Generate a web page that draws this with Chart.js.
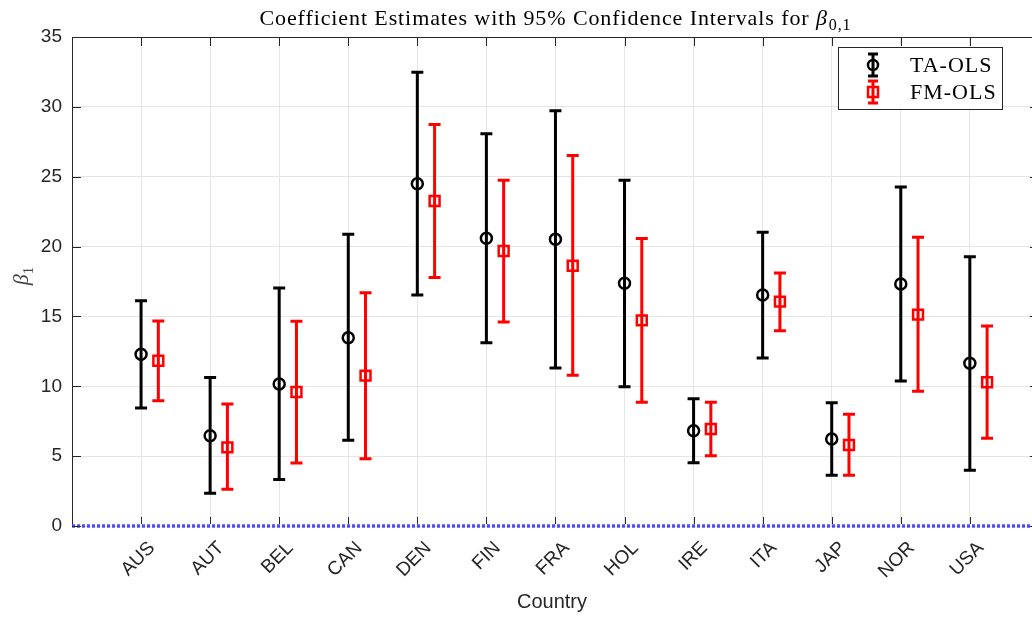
<!DOCTYPE html>
<html>
<head>
<meta charset="utf-8">
<script src="https://cdn.jsdelivr.net/npm/chart.js@4.4.1/dist/chart.umd.min.js"></script>
<style>
  html, body { margin: 0; padding: 0; background: #fff; overflow: hidden; }
  canvas { display: block; }
</style>
</head>
<body>
<canvas id="ciChart" width="1032" height="618" style="width:1032px;height:618px"></canvas>
<script>
// values
const countries = ['AUS', 'AUT', 'BEL', 'CAN', 'DEN', 'FIN', 'FRA', 'HOL', 'IRE', 'ITA', 'JAP', 'NOR', 'USA'];

const taEst  = [12.29, 6.46, 10.16, 13.48, 24.50, 20.59, 20.52, 17.37, 6.82, 16.54, 6.23, 17.32, 11.65];
const taLow  = [8.45, 2.34, 3.32, 6.13, 16.54, 13.12, 11.31, 9.97, 4.53, 12.03, 3.63, 10.38, 3.99];
const taHigh = [16.13, 10.62, 17.04, 20.88, 32.48, 28.08, 29.73, 24.74, 9.11, 21.02, 8.83, 24.27, 19.28];

const fmEst  = [11.83, 5.63, 9.59, 10.76, 23.26, 19.68, 18.63, 14.72, 6.94, 16.06, 5.80, 15.13, 10.29];
const fmLow  = [8.97, 2.63, 4.51, 4.82, 17.78, 14.60, 10.79, 8.85, 5.03, 13.98, 3.63, 9.64, 6.28];
const fmHigh = [14.67, 8.73, 14.65, 16.70, 28.73, 24.74, 26.51, 20.57, 8.85, 18.11, 8.00, 20.67, 14.32];

const yTicks = [0, 5, 10, 15, 20, 25, 30, 35];
const fmShift = 0.25; // FM-OLS drawn a bit right of the category
const xMax = 13.9;    // the figure is cut just before the right edge of the axes (x = 14)

const axisColor = '#262626';
const serif = '"Liberation Serif", "DejaVu Serif", serif';
const sans = '"Liberation Sans", Arial, sans-serif';

const taPoints = taEst.map((v, i) => ({ x: i + 1, y: v, lo: taLow[i], hi: taHigh[i] }));
const fmPoints = fmEst.map((v, i) => ({ x: i + 1 + fmShift, y: v, lo: fmLow[i], hi: fmHigh[i] }));

// draws the confidence-interval bars under the markers
const errorBars = {
    id: 'errorBars',
    beforeDatasetsDraw(chart) {
        const ctx = chart.ctx;
        const xs = chart.scales.x, ys = chart.scales.y;
        [0, 1].forEach(di => {
            const ds = chart.data.datasets[di];
            ctx.save();
            ctx.strokeStyle = ds.borderColor;
            ctx.lineWidth = 3;
            ds.data.forEach(p => {
                const x = xs.getPixelForValue(p.x);
                const yl = ys.getPixelForValue(p.lo);
                const yh = ys.getPixelForValue(p.hi);
                ctx.beginPath();
                ctx.moveTo(x, yl); ctx.lineTo(x, yh);
                ctx.moveTo(x - 6, yl); ctx.lineTo(x + 6, yl);
                ctx.moveTo(x - 6, yh); ctx.lineTo(x + 6, yh);
                ctx.stroke();
            });
            ctx.restore();
        });
    }
};

// title, axis subscripts, box, inner ticks and legend
const decorations = {
    id: 'decorations',
    afterDraw(chart) {
        const ctx = chart.ctx;
        const a = chart.chartArea;
        const xs = chart.scales.x, ys = chart.scales.y;
        const rightEdge = xs.getPixelForValue(14);

        ctx.save();
        // top border and inner ticks
        ctx.strokeStyle = axisColor;
        ctx.lineWidth = 1;
        ctx.beginPath();
        ctx.moveTo(a.left, a.top + 0.5); ctx.lineTo(a.right, a.top + 0.5);
        xs.ticks.forEach(t => {
            const x = Math.round(xs.getPixelForValue(t.value)) + 0.5;
            ctx.moveTo(x, a.bottom - 2); ctx.lineTo(x, a.bottom - 9);
            ctx.moveTo(x, a.top); ctx.lineTo(x, a.top + 9);
        });
        ys.ticks.forEach(t => {
            const y = Math.round(ys.getPixelForValue(t.value)) + 0.5;
            ctx.moveTo(a.left, y); ctx.lineTo(a.left + 9, y);
            ctx.moveTo(rightEdge, y); ctx.lineTo(rightEdge - 9, y);
        });
        ctx.stroke();

        // title with subscript
        const mainTxt = 'Coefficient Estimates with 95% Confidence Intervals for ';
        ctx.fillStyle = '#000';
        ctx.textBaseline = 'alphabetic';
        ctx.letterSpacing = '0.9px';
        ctx.font = '22px ' + serif;
        const w1 = ctx.measureText(mainTxt).width;
        ctx.font = 'italic 22px ' + serif;
        const w2 = ctx.measureText('β').width;
        ctx.font = '16px ' + serif;
        const w3 = ctx.measureText('0,1').width;
        let tx = (a.left + rightEdge) / 2 - (w1 + w2 + w3 + 1) / 2;
        const ty = 25;
        ctx.textAlign = 'left';
        ctx.font = '22px ' + serif;
        ctx.fillText(mainTxt, tx, ty);
        tx += w1;
        ctx.font = 'italic 22px ' + serif;
        ctx.fillText('β', tx, ty);
        tx += w2 + 1;
        ctx.font = '16px ' + serif;
        ctx.fillText('0,1', tx, ty + 5);

        // y axis title
        ctx.save();
        ctx.letterSpacing = '0px';
        ctx.translate(28, 276);
        ctx.rotate(-Math.PI / 2);
        ctx.fillStyle = '#404040';
        ctx.font = 'italic 22px ' + serif;
        const bw = ctx.measureText('β').width;
        ctx.font = '15px ' + serif;
        const sw = ctx.measureText('1').width;
        const bx = -(bw + sw) / 2;
        ctx.font = 'italic 22px ' + serif;
        ctx.fillText('β', bx, 0);
        ctx.font = '15px ' + serif;
        ctx.fillText('1', bx + bw, 5);
        ctx.restore();

        // legend
        const lx = 838.5, ly = 47.5, lw = 164, lh = 62;
        ctx.fillStyle = '#fff';
        ctx.fillRect(lx, ly, lw, lh);
        ctx.strokeStyle = axisColor;
        ctx.lineWidth = 1;
        ctx.strokeRect(lx, ly, lw, lh);
        const rows = [65, 92];
        chart.data.datasets.slice(0, 2).forEach((ds, i) => {
            const cx = 873, cy = rows[i];
            ctx.strokeStyle = ds.borderColor;
            ctx.lineWidth = 3;
            ctx.beginPath();
            ctx.moveTo(cx, cy - 11); ctx.lineTo(cx, cy + 11);
            ctx.moveTo(cx - 5, cy - 11); ctx.lineTo(cx + 5, cy - 11);
            ctx.moveTo(cx - 5, cy + 11); ctx.lineTo(cx + 5, cy + 11);
            ctx.stroke();
            ctx.lineWidth = 2.5;
            ctx.beginPath();
            if (i === 0) {
                ctx.arc(cx, cy, 5, 0, Math.PI * 2);
            } else {
                ctx.rect(cx - 5, cy - 5, 10, 10);
            }
            ctx.stroke();
            ctx.fillStyle = '#000';
            ctx.letterSpacing = '1px';
            ctx.font = '22px ' + serif;
            ctx.textBaseline = 'middle';
            ctx.fillText(ds.label, 910, cy + 1);
        });
        ctx.restore();
    }
};

new Chart(document.getElementById('ciChart'), {
    type: 'scatter',
    data: {
        datasets: [{
            label: 'TA-OLS',
            data: taPoints,
            borderColor: '#000000',
            backgroundColor: 'rgba(0,0,0,0)',
            pointStyle: 'circle',
            pointRadius: 5.5,
            pointBorderWidth: 2.5,
        }, {
            label: 'FM-OLS',
            data: fmPoints,
            borderColor: '#ff0000',
            backgroundColor: 'rgba(0,0,0,0)',
            pointStyle: 'rect',
            pointRadius: 7,
            pointBorderWidth: 2.5,
        }, {
            label: 'zero',
            type: 'line',
            data: [{ x: 0, y: 0 }, { x: xMax, y: 0 }],
            borderColor: '#4d4dff',
            borderWidth: 3.5,
            borderDash: [3, 2],
            pointRadius: 0,
            clip: false,
        }]
    },
    options: {
        responsive: false,
        animation: false,
        events: [],
        layout: { autoPadding: false, padding: { top: 37, right: 0, left: 0, bottom: 0 } },
        plugins: {
            legend: { display: false },
            tooltip: { enabled: false },
            title: { display: false }
        },
        scales: {
            x: {
                type: 'linear',
                min: 0,
                max: xMax,
                afterBuildTicks: scale => {
                    scale.ticks = countries.map((c, i) => ({ value: i + 1 }));
                },
                afterFit: scale => {
                    scale.height = 92;
                    scale.paddingLeft = 0;
                    scale.paddingRight = 0;
                },
                ticks: {
                    autoSkip: false,
                    maxRotation: 45,
                    minRotation: 45,
                    padding: 11,
                    labelOffset: 11,
                    color: axisColor,
                    font: { family: sans, size: 19 },
                    callback: v => countries[v - 1]
                },
                grid: { color: '#e5e5e5', drawTicks: false },
                border: { color: axisColor, width: 1, z: -1 },
                title: {
                    display: true,
                    text: 'Country',
                    color: axisColor,
                    font: { family: sans, size: 20 },
                    padding: { top: 2 }
                }
            },
            y: {
                min: 0,
                max: 35,
                afterBuildTicks: scale => {
                    scale.ticks = yTicks.map(v => ({ value: v }));
                },
                afterFit: scale => { scale.width = 72; },
                ticks: {
                    padding: 10,
                    color: axisColor,
                    font: { family: sans, size: 19 }
                },
                grid: { color: '#e5e5e5', drawTicks: false },
                border: { color: axisColor, width: 1 }
            }
        }
    },
    plugins: [errorBars, decorations]
});
</script>
</body>
</html>
